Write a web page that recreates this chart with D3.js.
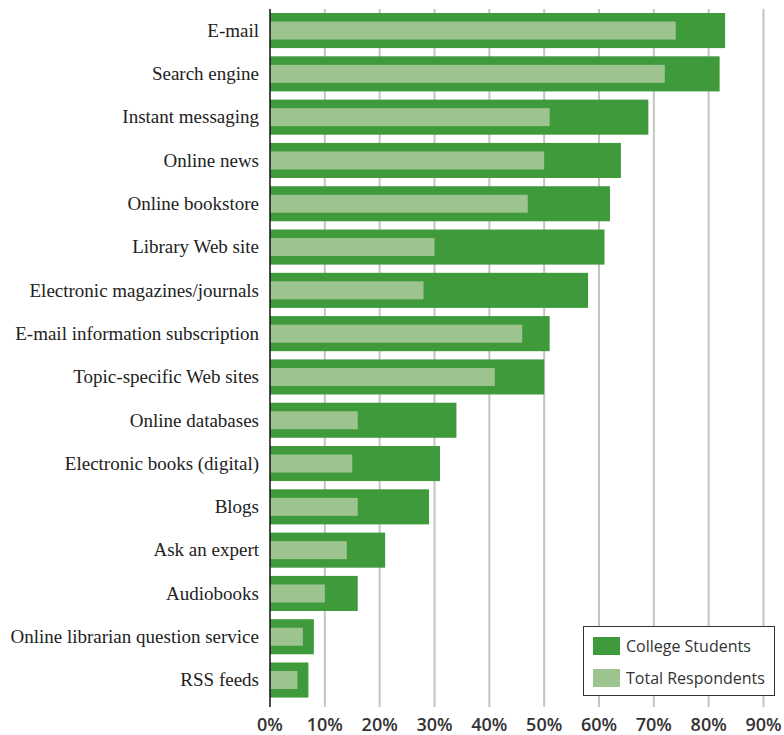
<!DOCTYPE html>
<html><head><meta charset="utf-8">
<script src="https://cdn.jsdelivr.net/npm/d3@7"></script>
<style>body{margin:0;background:#fff}</style>
</head><body>
<svg id="chart" width="784" height="735"></svg>
<script>
const categories = ["E-mail","Search engine","Instant messaging","Online news","Online bookstore","Library Web site","Electronic magazines/journals","E-mail information subscription","Topic-specific Web sites","Online databases","Electronic books (digital)","Blogs","Ask an expert","Audiobooks","Online librarian question service","RSS feeds"];
const collegeStudents = [83,82,69,64,62,61,58,51,50,34,31,29,21,16,8,7];
const totalRespondents = [74,72,51,50,47,30,28,46,41,16,15,16,14,10,6,5];
const tickValues = [0,10,20,30,40,50,60,70,80,90];
const seriesNames = ["College Students","Total Respondents"];
const colors = ["#3f9a3c","#9dc48f"];

const svg = d3.select("#chart");
const x = d3.scaleLinear().domain([0,90]).range([270,763.5]);
const y = d3.scaleBand().domain(categories).range([4.8,705.8]).paddingInner(0.19).paddingOuter(0.19);

// gridlines
svg.append("g").selectAll("line").data(tickValues.filter(d=>d>0)).join("line")
  .attr("x1",d=>x(d)).attr("x2",d=>x(d)).attr("y1",9).attr("y2",707)
  .attr("stroke","#c4c4c4").attr("stroke-width",2);

const rows = categories.map((c,i)=>({c, a:collegeStudents[i], b:totalRespondents[i]}));
svg.append("g").selectAll("rect").data(rows).join("rect")
  .attr("x",x(0)).attr("y",d=>y(d.c)).attr("width",d=>x(d.a)-x(0)).attr("height",y.bandwidth())
  .attr("fill",colors[0]);
const innerH = 18;
svg.append("g").selectAll("rect").data(rows).join("rect")
  .attr("x",x(0)).attr("y",d=>y(d.c)+y.bandwidth()/2-innerH/2).attr("width",d=>x(d.b)-x(0)).attr("height",innerH)
  .attr("fill",colors[1]);

// axis line
svg.append("line").attr("x1",x(0)).attr("x2",x(0)).attr("y1",9).attr("y2",707).attr("stroke","#111").attr("stroke-width",1.5);

// category labels
svg.append("g").selectAll("text").data(categories).join("text")
  .attr("x",259).attr("y",d=>y(d)+y.bandwidth()/2).attr("dy","0.33em")
  .attr("text-anchor","end").attr("font-family","'Liberation Serif', serif").attr("font-size",19)
  .attr("fill","#222").text(d=>d);

// tick labels
svg.append("g").selectAll("text").data(tickValues).join("text")
  .attr("x",d=>x(d)).attr("y",731).attr("text-anchor","middle")
  .attr("font-family","'Open Sans', sans-serif").attr("font-weight",600).attr("font-size",18)
  .attr("fill","#333").text(d=>d+"%");

// legend
const lg = svg.append("g");
lg.append("rect").attr("x",583.5).attr("y",626.5).attr("width",191).attr("height",69)
  .attr("fill","#fff").attr("stroke","#333").attr("stroke-width",1);
seriesNames.forEach((s,i)=>{
  lg.append("rect").attr("x",593).attr("y",637+i*32).attr("width",27).attr("height",18).attr("fill",colors[i]);
  lg.append("text").attr("x",626).attr("y",646+i*32).attr("dy","0.35em")
    .attr("font-family","'Open Sans', sans-serif").attr("font-size",16).attr("fill","#333").text(s);
});
</script>
</body></html>
